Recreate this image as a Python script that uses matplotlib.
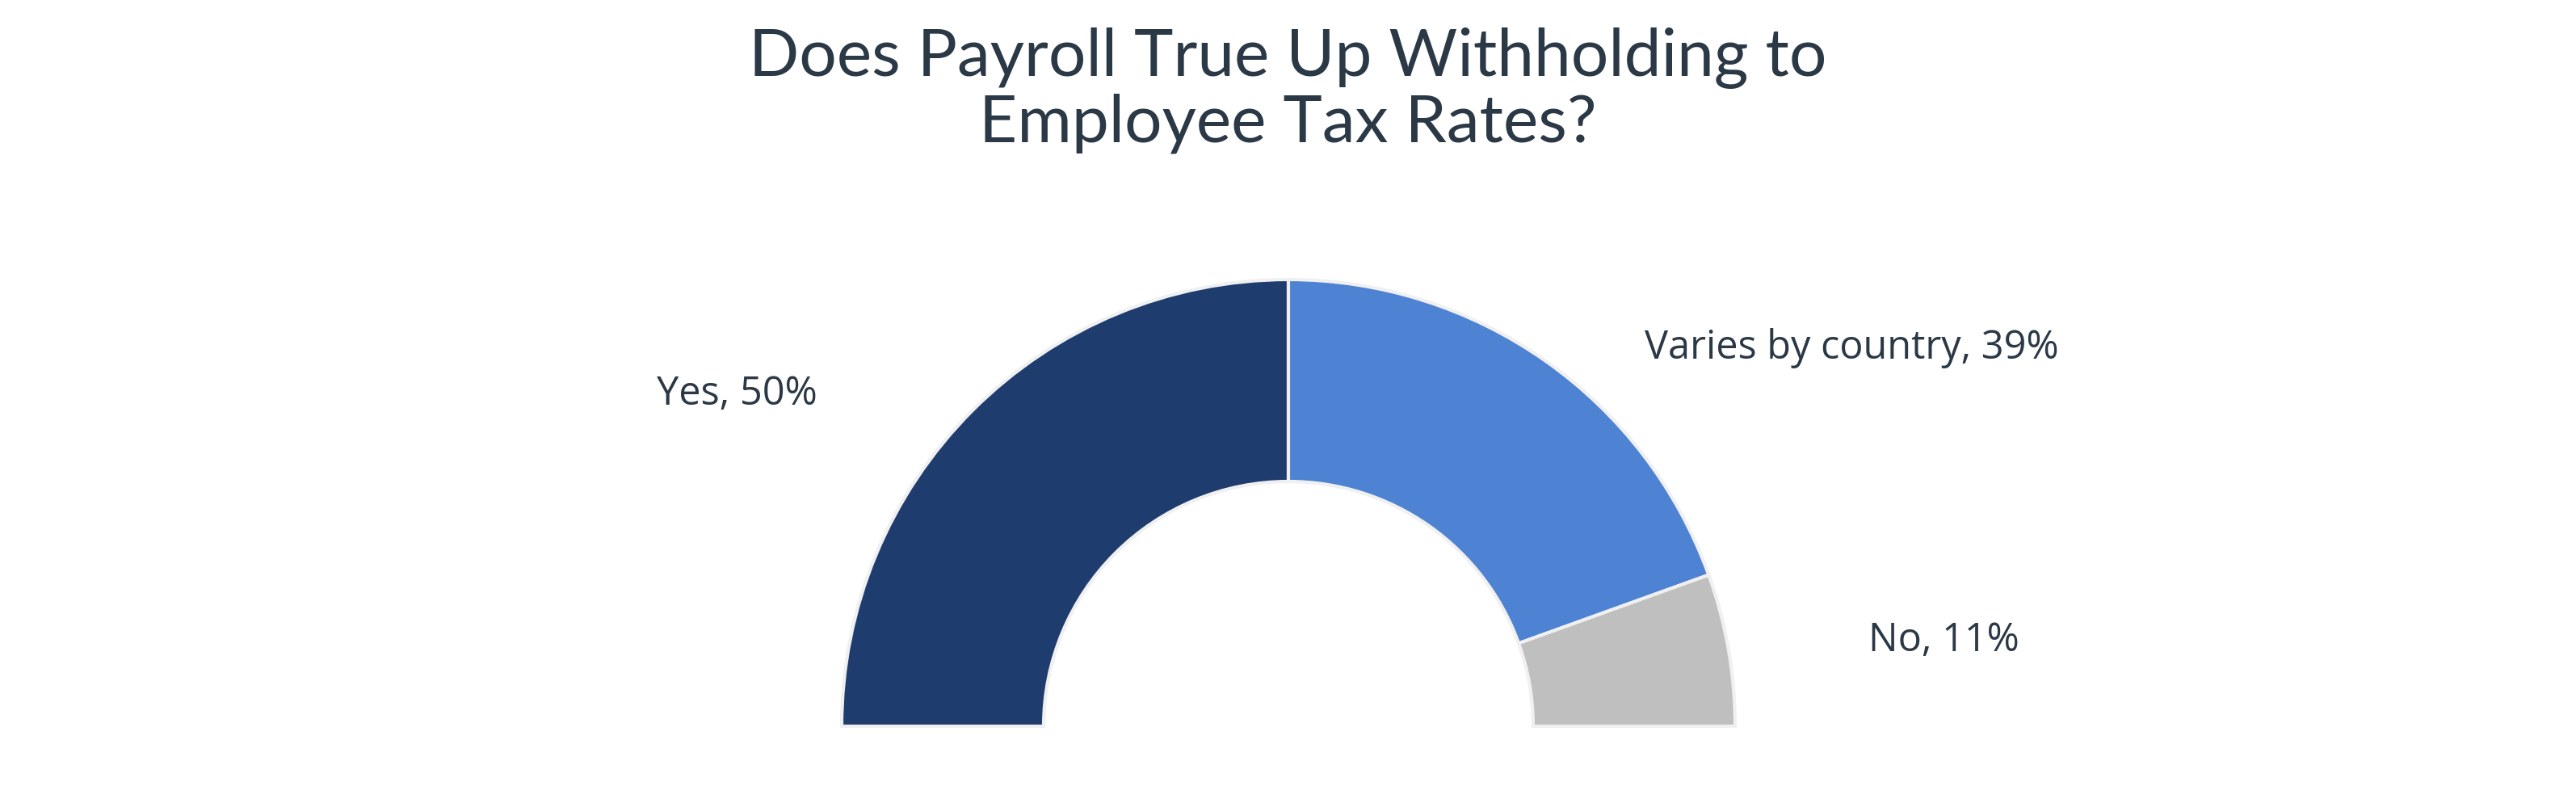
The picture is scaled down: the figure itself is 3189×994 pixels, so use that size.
import matplotlib
matplotlib.use("Agg")
import matplotlib.pyplot as plt

categories = ["Yes", "Varies by country", "No"]
values = [50, 39, 11]
colors = ["#1f3c6e", "#4e82d2", "#bfbfbf"]
title = "Does Payroll True Up Withholding to\nEmployee Tax Rates?"

W, H = 3189, 994
fig = plt.figure(figsize=(W / 100, H / 100), dpi=100)
ax = fig.add_axes([0, 0, 1, 1])

R_PX = 553.0
cx, cy = 1595.0, 994 - 899.0
ax.axis("off")

fracs = [v / sum(values) / 2 for v in values]
ax.pie(fracs, normalize=False, startangle=180, counterclock=False,
       colors=colors, radius=1.0,
       wedgeprops=dict(width=1 - 303 / 553, edgecolor="#f0f0f0", linewidth=3.0))
ax.set_aspect("equal")
ax.set_xlim(-cx / R_PX, (W - cx) / R_PX)
ax.set_ylim(-cy / R_PX, (H - cy) / R_PX)

tcol = "#2b3846"
fig.text(0.5, 1 - 112 / H, title, ha="center", va="center", fontsize=59,
         color=tcol, family=["Lato", "DejaVu Sans"], linespacing=1.08)

label_pos = [(912, 488), (2292, 431), (2406, 793)]
for name, v, (x, y) in zip(categories, values, label_pos):
    fig.text(x / W, 1 - y / H, f"{name}, {v}%", ha="center", va="center",
             fontsize=35, color=tcol, family=["Open Sans", "DejaVu Sans"])

fig.savefig("out.png", dpi=100, facecolor="white")
